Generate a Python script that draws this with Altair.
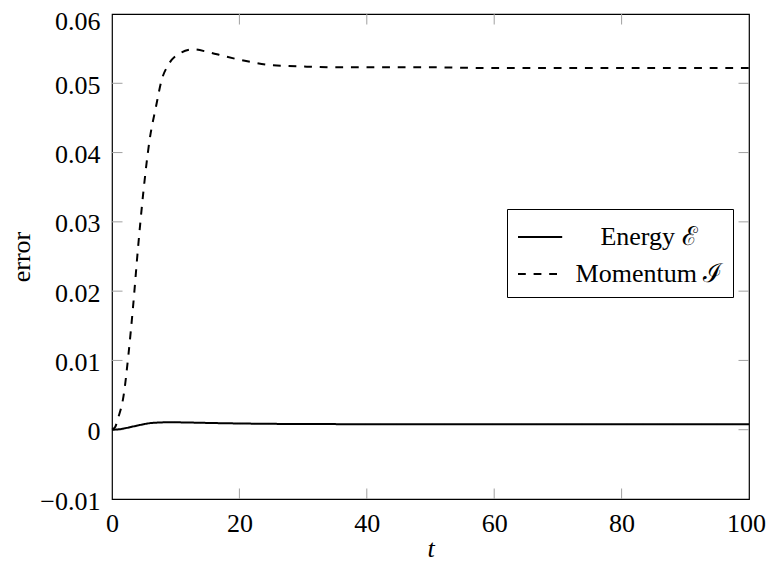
import altair as alt
import pandas as pd

# ---- data ----
series_names = ["Energy \u2130", "Momentum \u2110"]

t_energy = [0, 1, 2, 3, 4, 5, 6, 7, 8, 9, 10, 12, 15, 20, 25, 30, 40, 50, 60, 70, 80, 90, 100]
energy = [0.0, 0.00005, 0.0002, 0.0004, 0.0006, 0.0008, 0.00095, 0.00102, 0.00106, 0.00108,
          0.00107, 0.00104, 0.00098, 0.0009, 0.00085, 0.00082, 0.0008, 0.00079, 0.00079,
          0.00078, 0.00078, 0.00078, 0.00078]

t_momentum = [0, 0.5, 1, 1.8, 2.6, 3.3, 4.1, 4.9, 5.9, 6.9, 7.8, 8.8, 10.4, 12.8, 15.1,
              17.7, 20, 22.2, 25.3, 30.6, 35, 40, 50, 60, 70, 80, 90, 100]
momentum = [0.0, 0.0004, 0.0018, 0.0048, 0.0110, 0.0177, 0.0264, 0.0341, 0.0418, 0.0466,
            0.0505, 0.0526, 0.0542, 0.0549, 0.0545, 0.0539, 0.0534, 0.0530, 0.0526,
            0.0524, 0.0523, 0.0523, 0.0523, 0.0522, 0.0522, 0.0522, 0.0522, 0.0522]

x_ticks = [0, 20, 40, 60, 80, 100]
y_ticks = [-0.01, 0.0, 0.01, 0.02, 0.03, 0.04, 0.05, 0.06]

df = pd.concat([
    pd.DataFrame({"t": t_energy, "v": energy, "series": series_names[0]}),
    pd.DataFrame({"t": t_momentum, "v": momentum, "series": series_names[1]}),
])
xt = pd.DataFrame({"t": x_ticks[1:-1]})
yt = pd.DataFrame({"v": y_ticks[1:-1]})

W, H = 637, 485
FONT = "Liberation Serif"
TL = 10.5
TICK_COLOR = "#a0a0a0"

xscale = alt.Scale(domain=[0, 100], nice=False, zero=False)
yscale = alt.Scale(domain=[-0.01, 0.06], nice=False, zero=False)

x_axis = alt.Axis(values=x_ticks, title="t", titleFontStyle="italic", titleFont=FONT,
                  titleFontSize=26, titleFontWeight="normal", titleColor="black",
                  titleX=W / 2, titleY=62, titleBaseline="bottom", titleAlign="center",
                  labelFont=FONT, labelFontSize=26, labelColor="black", labelPadding=11,
                  labelOffset={"condition": {"test": "datum.value == 100", "value": -3}, "value": 0},
                  labelFlush=False, labelOverlap=False, ticks=False, domain=False, grid=False,
                  format="d")
y_axis = alt.Axis(values=y_ticks, title="error", titleFont=FONT, titleFontSize=26,
                  titleFontWeight="normal", titleColor="black",
                  titleX=-91, titleY=H / 2, titleBaseline="middle", titleAlign="center",
                  titleAngle=-90,
                  labelFont=FONT, labelFontSize=26, labelColor="black", labelPadding=12,
                  labelOffset={"condition": {"test": "datum.value > 0.055", "value": 7}, "value": 2},
                  labelFlush=False, labelOverlap=False, ticks=False, domain=False, grid=False,
                  labelExpr="datum.value == 0 ? '0' : replace(format(datum.value, '.2f'), '-', '\u2212')")

lines = alt.Chart(df).mark_line(color="black", strokeWidth=2, interpolate="monotone").encode(
    x=alt.X("t:Q", scale=xscale, axis=x_axis),
    y=alt.Y("v:Q", scale=yscale, axis=y_axis),
    strokeDash=alt.StrokeDash(
        "series:N",
        scale=alt.Scale(domain=series_names, range=[[1, 0], [7.8, 7.8]]),
        legend=alt.Legend(
            title=None, orient="none", legendX=395, legendY=195,
            direction="vertical",
            symbolType="M-1,0H1.6", symbolSize=1156, symbolStrokeWidth=2,
            symbolStrokeColor="black",
            labelFont=FONT, labelFontSize=26, labelColor="black",
            labelAlign="center", labelOffset=96, labelLimit=400,
            rowPadding=6, padding=10,
            strokeColor="black", fillColor="white",
        ),
    ),
    detail="series:N",
)

top_ticks = alt.Chart(xt).mark_rule(color=TICK_COLOR, strokeWidth=1).encode(
    x=alt.X("t:Q", scale=xscale), y=alt.value(0), y2=alt.value(TL))
bottom_ticks = alt.Chart(xt).mark_rule(color=TICK_COLOR, strokeWidth=1).encode(
    x=alt.X("t:Q", scale=xscale), y=alt.value(H - TL), y2=alt.value(H))
left_ticks = alt.Chart(yt).mark_rule(color=TICK_COLOR, strokeWidth=1).encode(
    y=alt.Y("v:Q", scale=yscale), x=alt.value(0), x2=alt.value(TL))
right_ticks = alt.Chart(yt).mark_rule(color=TICK_COLOR, strokeWidth=1).encode(
    y=alt.Y("v:Q", scale=yscale), x=alt.value(W - TL), x2=alt.value(W))

chart = alt.layer(top_ticks, bottom_ticks, left_ticks, right_ticks, lines).properties(
    width=W, height=H,
    autosize=alt.AutoSizeParams(type="none"),
    padding={"left": 104, "top": 6, "right": 17, "bottom": 63},
    background="white",
).configure_view(stroke="black", strokeWidth=1.2)

chart.save("out.html", embed_options={"renderer": "svg", "actions": False})
